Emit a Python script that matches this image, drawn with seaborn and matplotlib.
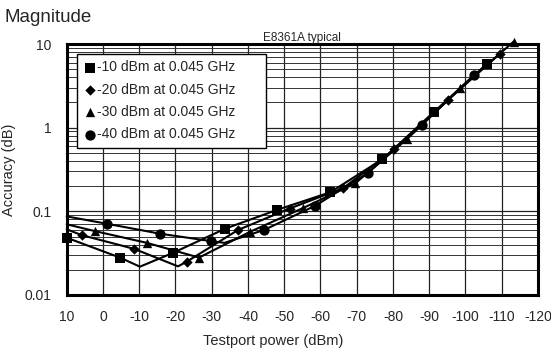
import numpy as np
import pandas as pd
import matplotlib
matplotlib.use("Agg")
import matplotlib.pyplot as plt
import seaborn as sns
from matplotlib.ticker import FixedLocator, FixedFormatter, LogLocator, NullFormatter

# ---- data ----
series_labels = ["-10 dBm at 0.045 GHz", "-20 dBm at 0.045 GHz",
                 "-30 dBm at 0.045 GHz", "-40 dBm at 0.045 GHz"]

# marker points
sq_x = [9.8, -4.7, -19.4, -33.7, -48.0, -62.7, -77.1, -91.2, -105.8]
sq_y = [0.048, 0.028, 0.032, 0.062, 0.104, 0.169, 0.42, 1.53, 5.75]
di_x = [5.9, -8.6, -23.1, -37.3, -51.5, -66.3, -80.4, -95.1, -109.4]
di_y = [0.052, 0.0356, 0.0250, 0.060, 0.108, 0.19, 0.55, 2.13, 7.6]
tr_x = [2.2, -12.1, -26.5, -40.6, -55.3, -69.6, -84.0, -98.6, -113.3]
tr_y = [0.058, 0.042, 0.028, 0.057, 0.110, 0.216, 0.74, 2.96, 10.7]
ci_x = [-1.1, -15.8, -29.9, -44.5, -58.6, -73.2, -87.9, -102.3]
ci_y = [0.071, 0.054, 0.044, 0.060, 0.117, 0.29, 1.07, 4.25]

# extra line nodes (start at left edge and the V vertex), no markers
sq_line_x = [10.0, -10.2]
sq_line_y = [0.049, 0.0218]
di_line_x = [10.0, -20.7]
di_line_y = [0.061, 0.0220]
tr_line_x = [10.0]
tr_line_y = [0.070]
ci_line_x = [10.0, -33.5]
ci_line_y = [0.087, 0.042]

x_ticks = [10, 0, -10, -20, -30, -40, -50, -60, -70, -80, -90, -100, -110, -120]
y_ticks = [0.01, 0.1, 1, 10]
y_tick_labels = ["0.01", "0.1", "1", "10"]

# ---- build frames ----
marker_sets = [(sq_x, sq_y), (di_x, di_y), (tr_x, tr_y), (ci_x, ci_y)]
line_sets = [(sq_line_x, sq_line_y), (di_line_x, di_line_y),
             (tr_line_x, tr_line_y), (ci_line_x, ci_line_y)]

mk_rows, ln_rows = [], []
for lab, (mx, my), (lx, ly) in zip(series_labels, marker_sets, line_sets):
    for a, b in zip(mx, my):
        mk_rows.append((lab, a, b))
        ln_rows.append((lab, a, b))
    for a, b in zip(lx, ly):
        ln_rows.append((lab, a, b))
markers_df = pd.DataFrame(mk_rows, columns=["series", "power", "acc"])
lines_df = pd.DataFrame(ln_rows, columns=["series", "power", "acc"])
lines_df = lines_df.sort_values(["series", "power"], ascending=[True, False])

# ---- style ----
sns.set_style("white")
plt.rcParams["font.family"] = ["Liberation Sans", "DejaVu Sans"]

W, H = 551, 351
fig = plt.figure(figsize=(W / 100, H / 100), dpi=100)
ax = fig.add_axes([66.7 / W, 1 - 295 / H, (538 - 66.7) / W, (295 - 44) / H])

ax.set_yscale("log")
ax.set_xlim(10, -120)
ax.set_ylim(0.01, 10)

# grid
ax.xaxis.set_major_locator(FixedLocator(x_ticks))
ax.yaxis.set_major_locator(FixedLocator(y_ticks))
ax.yaxis.set_major_formatter(FixedFormatter(y_tick_labels))
ax.yaxis.set_minor_locator(LogLocator(base=10, subs=np.arange(2, 10)))
ax.yaxis.set_minor_formatter(NullFormatter())
ax.grid(True, which="major", axis="both", color="#222222", linewidth=0.9)
ax.grid(True, which="minor", axis="y", color="#333333", linewidth=0.7)
ax.set_axisbelow(True)

palette = {lab: "black" for lab in series_labels}
sns.lineplot(data=lines_df, x="power", y="acc", hue="series", palette=palette,
             sort=False, estimator=None, linewidth=1.5, legend=False, ax=ax)
for ln in ax.lines:
    ln.set_clip_on(False)

mk_map = dict(zip(series_labels, ["s", "D", "^", "o"]))
size_map = dict(zip(series_labels, [50, 28, 45, 55]))
for lab in series_labels:
    sub = markers_df[markers_df.series == lab]
    sns.scatterplot(data=sub, x="power", y="acc", marker=mk_map[lab],
                    s=size_map[lab], color="black", edgecolor="black",
                    linewidth=0, label=lab, ax=ax, clip_on=False, zorder=5)

# frame
for sp in ax.spines.values():
    sp.set_linewidth(2.2)
    sp.set_color("black")

ax.tick_params(axis="both", which="both", length=0)
ax.tick_params(axis="y", pad=11, labelsize=10)
ax.tick_params(axis="x", pad=11, labelsize=10)
ax.set_xticklabels([str(t) for t in x_ticks])

ax.set_xlabel("Testport power (dBm)", fontsize=10.5, labelpad=4)
ax.xaxis.set_label_coords(0.438, -0.155)
ax.set_ylabel("Accuracy (dB)", fontsize=10.5, labelpad=6)
ax.set_title("E8361A typical", fontsize=8.5, pad=2)

leg = ax.legend(loc="upper left", bbox_to_anchor=(0.0225, 0.0, 0.401, 0.96),
                mode="expand", borderaxespad=0,
                fontsize=10, frameon=True, fancybox=False, edgecolor="black",
                framealpha=1, handletextpad=0.1, handlelength=0.9,
                labelspacing=0.6, borderpad=0.45)
leg.get_frame().set_linewidth(1.0)

fig.text(5 / W, 1 - 17 / H, "Magnitude", fontsize=13.5, va="center", ha="left")

fig.savefig("out.png", dpi=100)
